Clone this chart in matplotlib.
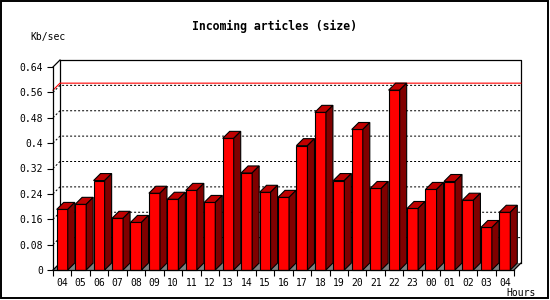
import numpy as np
import matplotlib
matplotlib.use('Agg')
import matplotlib.pyplot as plt
from matplotlib.patches import Polygon, Rectangle

# Data
hours = ['04', '05', '06', '07', '08', '09', '10', '11', '12', '13', '14', '15', '16',
         '17', '18', '19', '20', '21', '22', '23', '00', '01', '02', '03', '04']
kbsec = [0.191, 0.207, 0.282, 0.163, 0.150, 0.242, 0.223, 0.251, 0.213, 0.415,
         0.306, 0.245, 0.229, 0.392, 0.497, 0.282, 0.443, 0.257, 0.567, 0.194,
         0.254, 0.279, 0.220, 0.134, 0.182]
yticks = [0, 0.08, 0.16, 0.24, 0.32, 0.4, 0.48, 0.56, 0.64]

W, H, DPI = 550, 300, 100
fig = plt.figure(figsize=(W / DPI, H / DPI), dpi=DPI)

# front plot area in pixels
left, right, top, bottom = 53, 514, 67, 270
ax = fig.add_axes([left / W, (H - bottom) / H, (right - left) / W, (bottom - top) / H])
ax.set_facecolor('none')
n = len(hours)
ax.set_xlim(-0.5, n - 0.5)
ax.set_ylim(0, 0.64)

# 3d depth, converted from pixels into data units
px_x = n / (right - left)
px_y = 0.64 / (bottom - top)
ddx = 7 * px_x
ddy = 7 * px_y
x0, x1 = -0.5, n - 0.5
ymax = yticks[-1]

# floor
ax.add_patch(Polygon([(x0, 0), (x1, 0), (x1 + ddx, ddy), (x0 + ddx, ddy)],
                     closed=True, facecolor='#808080', edgecolor='none', clip_on=False, zorder=1))

# back plane frame
ax.plot([x0 + ddx, x0 + ddx, x1 + ddx, x1 + ddx], [ddy, ymax + ddy, ymax + ddy, ddy],
        color='black', lw=0.9, clip_on=False, zorder=2)
ax.plot([x0, x0 + ddx], [ymax, ymax + ddy], color='black', lw=0.9, clip_on=False, zorder=2)
ax.plot([x0, x0 + ddx], [0, ddy], color='black', lw=0.9, clip_on=False, zorder=2)
ax.plot([x1, x1 + ddx], [0, ddy], color='black', lw=0.9, clip_on=False, zorder=2)

# dotted grid on back plane
for v in yticks[1:-1]:
    ax.plot([x0, x0 + ddx, x1 + ddx], [v, v + ddy, v + ddy], color='black', lw=0.72,
            linestyle=(0, (2, 2)), clip_on=False, zorder=2)

# red max line
vmax = max(kbsec)
ax.plot([x0, x0 + ddx, x1 + ddx], [vmax, vmax + ddy, vmax + ddy], color='red', lw=0.8,
        clip_on=False, zorder=2.5)

# 3d bars
bw = 0.3
for i, v in enumerate(kbsec):
    ax.add_patch(Rectangle((i - bw, 0), 2 * bw, v, facecolor='#ff0000', edgecolor='black',
                           lw=0.8, zorder=3, clip_on=False))
    ax.add_patch(Polygon([(i - bw, v), (i + bw, v), (i + bw + ddx, v + ddy), (i - bw + ddx, v + ddy)],
                         closed=True, facecolor='#c00000', edgecolor='black', lw=0.8, zorder=3, clip_on=False))
    ax.add_patch(Polygon([(i + bw, 0), (i + bw + ddx, ddy), (i + bw + ddx, v + ddy), (i + bw, v)],
                         closed=True, facecolor='#800000', edgecolor='black', lw=0.8, zorder=3, clip_on=False))

# axes
for s in ['top', 'right']:
    ax.spines[s].set_visible(False)
for s in ['left', 'bottom']:
    ax.spines[s].set_linewidth(0.9)
    ax.spines[s].set_zorder(4)

mono = 'DejaVu Sans Mono'
ax.set_yticks(yticks)
ax.set_yticklabels(['%g' % v for v in yticks], family=mono, fontsize=7)
ax.tick_params(axis='y', length=4, width=0.8, pad=3)
ax.set_xticks(np.arange(n))
ax.set_xticklabels(hours, family=mono, fontsize=7)
ax.set_xticks(np.arange(n + 1) - 0.5, minor=True)
ax.tick_params(axis='x', which='major', length=0, pad=6)
ax.tick_params(axis='x', which='minor', length=4, width=0.8)

# texts
fig.text(274 / W, 1 - 26.5 / H, 'Incoming articles (size)', ha='center', va='center',
         family=mono, fontweight='bold', fontsize=8.3)
fig.text(30 / W, 1 - 37 / H, 'Kb/sec', ha='left', va='center', family=mono, fontsize=7)
fig.text(536 / W, 1 - 293 / H, 'Hours', ha='right', va='center', family=mono, fontsize=7)

# image frame
fig.patches.append(Rectangle((0.5 / W, 2 / H), 547.5 / W, 297.5 / H, transform=fig.transFigure,
                             fill=False, edgecolor='black', lw=1.4))

fig.savefig('out.png', dpi=DPI)
